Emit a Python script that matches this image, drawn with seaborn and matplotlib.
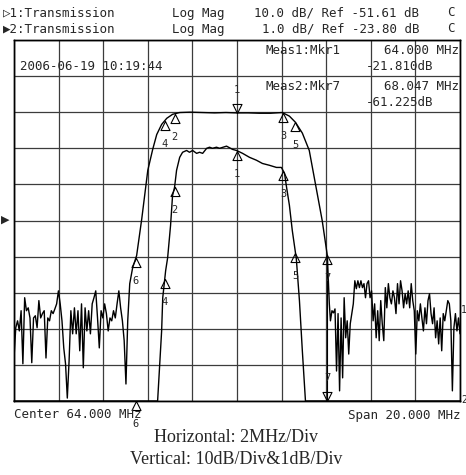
import numpy as np
import pandas as pd
import matplotlib
matplotlib.use("Agg")
import matplotlib.pyplot as plt
import seaborn as sns

W, H = 466, 475

# analyzer settings
f_start, f_stop = 54.0, 74.0
ref1, div1 = -51.61, 10.0   # trace 1: 10 dB/div, ref at centre line
ref2, div2 = -23.80, 1.0    # trace 2: 1 dB/div, ref at centre line

# trace 1 (10 dB/div) - noise floor below the lower skirt
noise_left_db = [
    -89.7, -81.3, -79.4, -82.2, -76.6, -91.3, -73.0, -76.6, -75.8, -78.6,
    -91.0, -78.6, -78.0, -81.3, -73.8, -78.6, -77.4, -76.6, -89.7, -78.6,
    -79.4, -76.6, -77.4, -76.1, -74.7, -71.1, -74.7, -79.4, -86.9, -91.3,
    -100.8, -90.5, -76.6, -83.0, -75.8, -83.0, -76.6, -87.7, -74.7, -92.4,
    -75.8, -82.2, -76.6, -83.0, -74.7, -73.0, -71.1, -78.6, -86.9, -76.6,
    -78.6, -74.7, -77.4, -82.2, -78.6, -79.4, -76.6, -78.6, -74.7, -71.1,
    -75.8, -79.4, -84.9, -96.9, -79.4,
]
noise_left_span = (54.0, 59.10)

# trace 1 - skirts and passband
skirt_f = [59.19, 59.32, 59.50, 59.73, 60.00, 60.22, 60.40, 60.62, 60.85, 61.11,
           61.43, 61.90, 62.50, 63.00, 63.50, 64.00, 64.50, 65.00, 65.50, 66.03,
           66.35, 66.62, 66.93, 67.24, 67.51, 67.82, 68.05, 68.14]
skirt_db = [-69.1, -64.7, -61.3, -51.1, -37.7, -31.9, -27.8, -25.0, -23.3, -22.2,
            -21.7, -21.6, -21.7, -21.8, -21.7, -21.81, -21.8, -21.9, -21.9, -21.7,
            -22.7, -24.4, -27.4, -32.2, -41.3, -51.6, -61.3, -74.7]

# trace 1 - noise floor above the upper skirt
noise_right_db = [
    -79.4, -76.6, -77.2, -76.1, -93.3, -77.4, -98.8, -78.6, -95.2, -73.0,
    -84.1, -79.4, -88.6, -80.2, -77.4, -74.7, -68.3, -70.5, -68.3, -70.2,
    -68.3, -70.2, -69.1, -73.0, -69.1, -68.3, -73.0, -71.1, -79.4, -74.7,
    -84.1, -76.6, -84.9, -73.8, -80.2, -84.9, -70.2, -75.8, -69.1, -73.0,
    -74.7, -71.1, -73.0, -77.4, -69.1, -74.7, -68.3, -71.1, -75.8, -71.9,
    -74.7, -71.1, -75.8, -69.1, -73.8, -76.6, -88.6, -76.6, -79.4, -74.7,
    -78.6, -82.2, -75.8, -80.2, -73.8, -71.9, -77.4, -80.2, -75.8, -84.1,
    -79.4, -85.8, -78.6, -87.7, -77.4, -79.4, -76.6, -73.8, -74.7, -79.4,
    -98.8, -81.3, -77.4, -82.2, -78.6, -83.0,
]
noise_right_span = (68.19, 74.0)

# trace 2 (1 dB/div) - passband detail, pinned to the bottom edge outside
t2_f = [54.00, 60.44, 60.53, 60.62, 60.67, 60.80, 60.89, 61.02, 61.11, 61.20,
        61.29, 61.43, 61.56, 61.74, 61.87, 62.01, 62.19, 62.32, 62.46, 62.64,
        62.77, 62.90, 63.08, 63.22, 63.53, 63.80, 63.98, 64.25, 64.56, 64.87,
        65.14, 65.45, 65.77, 65.99, 66.13, 66.21, 66.35, 66.48, 66.66, 66.80,
        66.93, 67.07, 74.00]
t2_db = [-28.80, -28.80, -27.83, -26.86, -25.94, -25.19, -24.83, -23.94, -23.11, -22.88,
         -22.41, -22.05, -21.91, -21.86, -21.91, -21.86, -21.94, -21.91, -21.94, -21.80,
         -21.77, -21.80, -21.77, -21.80, -21.74, -21.83, -21.86, -21.94, -22.05, -22.13,
         -22.22, -22.27, -22.33, -22.33, -22.49, -22.83, -23.38, -24.08, -24.86, -26.02,
         -27.41, -28.80, -28.80]

# markers (shared by both traces)
marker_f = [64.000, 61.20, 66.08, 60.76, 66.62, 59.46, 68.047]
marker_labels = ["1", "2", "3", "4", "5", "6", "7"]
t1_down = ["1"]
t2_down = ["7"]

header1 = ["\u25b71:Transmission", "Log Mag", "10.0 dB/ Ref -51.61 dB", "C"]
header2 = ["\u25b62:Transmission", "Log Mag", "1.0 dB/ Ref -23.80 dB", "C"]
meas_rows = [("Meas1:Mkr1", "64.000 MHz", "-21.810dB"),
             ("Meas2:Mkr7", "68.047 MHz", "-61.225dB")]
stamp = "2006-06-19 10:19:44"
center_txt = "Center 64.000 MHz"
span_txt = "Span 20.000 MHz"
caption = ["Horizontal: 2MHz/Div", "Vertical: 10dB/Div&1dB/Div"]

# build frames
t1 = pd.DataFrame({
    "freq": np.concatenate([np.linspace(*noise_left_span, len(noise_left_db)),
                            skirt_f,
                            np.linspace(*noise_right_span, len(noise_right_db))]),
    "db": np.concatenate([noise_left_db, skirt_db, noise_right_db]),
})
t2 = pd.DataFrame({"freq": t2_f, "db": t2_db})

sns.set_theme(style="white")
mono = ["DejaVu Sans Mono", "DejaVu Sans"]
plt.rcParams["font.family"] = mono

fig = plt.figure(figsize=(W / 100, H / 100), dpi=100)
L, R, T, B = 14, 460, 40, 401
ax = fig.add_axes([L / W, 1 - B / H, (R - L) / W, (B - T) / H])
ax2 = ax.twinx()

lo1, hi1 = ref1 - 5 * div1, ref1 + 5 * div1
lo2, hi2 = ref2 - 5 * div2, ref2 + 5 * div2
ax.set_xlim(f_start, f_stop)
ax.set_ylim(lo1, hi1)
ax2.set_ylim(lo2, hi2)
ax.set_xticks(np.linspace(f_start, f_stop, 11))
ax.set_yticks(np.linspace(lo1, hi1, 11))
ax2.set_yticks([])
ax.tick_params(length=0, labelbottom=False, labelleft=False)
ax.grid(True, color="#3c3c3c", lw=0.9)
ax.set_axisbelow(True)
for a in (ax, ax2):
    for s in a.spines.values():
        s.set_color("black")
        s.set_linewidth(1.0)

sns.lineplot(data=t1, x="freq", y="db", ax=ax, color="black", lw=1.0,
             estimator=None, sort=False)
sns.lineplot(data=t2, x="freq", y="db", ax=ax2, color="black", lw=1.0,
             estimator=None, sort=False)
for line in ax2.lines:
    line.set_clip_on(False)
for a in (ax, ax2):
    a.set_xlabel("")
    a.set_ylabel("")

# marker 7 readout line down to the clipped trace 2 marker
m7 = np.interp(marker_f[6], t1["freq"], t1["db"])
ax.plot([marker_f[6], marker_f[6]], [m7, lo1], color="black", lw=0.8)

up_tri = [(0, 0), (-0.5, -1), (0.5, -1), (0, 0)]
dn_tri = [(0, 0), (-0.5, 1), (0.5, 1), (0, 0)]


def draw_markers(a, df, down):
    for f, lab in zip(marker_f, marker_labels):
        y = np.interp(f, df["freq"], df["db"])
        is_down = lab in down
        a.plot(f, y, marker=dn_tri if is_down else up_tri, ms=13,
               mfc="none", mec="black", mew=0.8, clip_on=False)
        a.annotate(lab, (f, y), xytext=(0, 13 if is_down else -13),
                   textcoords="offset points", ha="center",
                   va="bottom" if is_down else "top", fontsize=7.5,
                   annotation_clip=False)


draw_markers(ax, t1, t1_down)
draw_markers(ax2, t2, t2_down)


def px(x, y):
    return x / W, 1 - y / H


hfs = 9
fig.text(*px(3, 13), header1[0], fontsize=hfs, va="center")
fig.text(*px(172, 13), header1[1], fontsize=hfs, va="center")
fig.text(*px(419, 13), header1[2], fontsize=hfs, va="center", ha="right")
fig.text(*px(447, 13), header1[3], fontsize=hfs, va="center")
fig.text(*px(3, 29), header2[0], fontsize=hfs, va="center")
fig.text(*px(172, 29), header2[1], fontsize=hfs, va="center")
fig.text(*px(419, 29), header2[2], fontsize=hfs, va="center", ha="right")
fig.text(*px(447, 29), header2[3], fontsize=hfs, va="center")

for (name, freq, level), y0 in zip(meas_rows, (51, 87)):
    fig.text(*px(266, y0), name, fontsize=hfs, va="center")
    fig.text(*px(459, y0), freq, fontsize=hfs, va="center", ha="right")
    fig.text(*px(366, y0 + 16), level, fontsize=hfs, va="center")

fig.text(*px(20, 67), stamp, fontsize=hfs, va="center")
fig.text(*px(14, 415), center_txt, fontsize=hfs, va="center")
fig.text(*px(460, 415), span_txt, fontsize=hfs, va="center", ha="right")
fig.text(*px(1, 220), "\u25b6", fontsize=8, va="center", family=["DejaVu Sans"])
fig.text(*px(461, 310), "1", fontsize=7, va="center")
fig.text(*px(461, 400), "2", fontsize=7, va="center")

fig.text(*px(236, 438), caption[0], fontsize=13, ha="center", va="center",
         family=["Liberation Serif", "DejaVu Serif"])
fig.text(*px(236, 460), caption[1], fontsize=13, ha="center", va="center",
         family=["Liberation Serif", "DejaVu Serif"])

fig.savefig("out.png", dpi=100)
